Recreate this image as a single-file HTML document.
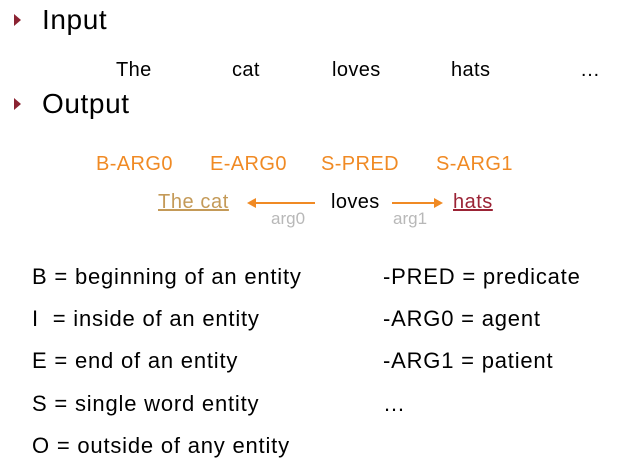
<!DOCTYPE html>
<html><head><style>
body{margin:0;width:637px;height:473px;background:#fff;font-family:"Liberation Sans",sans-serif;position:relative;overflow:hidden}
.t{position:absolute;white-space:nowrap;line-height:1}
.tri{position:absolute;width:0;height:0;border-top:6px solid transparent;border-bottom:6px solid transparent;border-left:7px solid #8b2332}
.o{color:#f08a24;font-size:20px;letter-spacing:0.4px}
.l{font-size:22px;color:#000;letter-spacing:0.8px}
</style></head><body>
<div class="tri" style="left:14px;top:14px"></div>
<div class="t" style="left:42px;top:6px;font-size:28px;letter-spacing:0.6px">Input</div>
<div class="t" style="left:116px;top:60px;font-size:20px;letter-spacing:0.4px">The</div>
<div class="t" style="left:232px;top:60px;font-size:20px;letter-spacing:0.4px">cat</div>
<div class="t" style="left:332px;top:60px;font-size:20px;letter-spacing:0.4px">loves</div>
<div class="t" style="left:451px;top:60px;font-size:20px;letter-spacing:0.4px">hats</div>
<div class="t" style="left:580px;top:60px;font-size:20px">…</div>
<div class="tri" style="left:14px;top:98px"></div>
<div class="t" style="left:42px;top:90px;font-size:28px;letter-spacing:0.6px">Output</div>
<div class="t o" style="left:96px;top:154px">B-ARG0</div>
<div class="t o" style="left:210px;top:154px">E-ARG0</div>
<div class="t o" style="left:321px;top:154px">S-PRED</div>
<div class="t o" style="left:436px;top:154px">S-ARG1</div>
<div class="t" style="left:158px;top:192px;font-size:20px;letter-spacing:0.6px;color:#c49a58;text-decoration:underline">The cat</div>
<div class="t" style="left:331px;top:192px;font-size:20px;letter-spacing:0.4px">loves</div>
<div class="t" style="left:453px;top:192px;font-size:20px;letter-spacing:0.5px;color:#9b2335;text-decoration:underline">hats</div>
<svg style="position:absolute;left:0;top:0" width="637" height="473">
<line x1="315" y1="203" x2="254" y2="203" stroke="#f08a24" stroke-width="2"/>
<polygon points="247,203 256,198 256,208" fill="#f08a24"/>
<line x1="392" y1="203" x2="435" y2="203" stroke="#f08a24" stroke-width="2"/>
<polygon points="443,203 434,198 434,208" fill="#f08a24"/>
</svg>
<div class="t" style="left:271px;top:210px;font-size:17px;color:#b8b8b8">arg0</div>
<div class="t" style="left:393px;top:210px;font-size:17px;color:#b8b8b8">arg1</div>
<div class="t l" style="left:32px;top:266px">B = beginning of an entity</div>
<div class="t l" style="left:32px;top:308px">I &nbsp;= inside of an entity</div>
<div class="t l" style="left:32px;top:350px">E = end of an entity</div>
<div class="t l" style="left:32px;top:393px">S = single word entity</div>
<div class="t l" style="left:32px;top:435px">O = outside of any entity</div>
<div class="t l" style="left:383px;top:266px">-PRED = predicate</div>
<div class="t l" style="left:383px;top:308px">-ARG0 = agent</div>
<div class="t l" style="left:383px;top:350px">-ARG1 = patient</div>
<div class="t l" style="left:383px;top:393px">…</div>
</body></html>
